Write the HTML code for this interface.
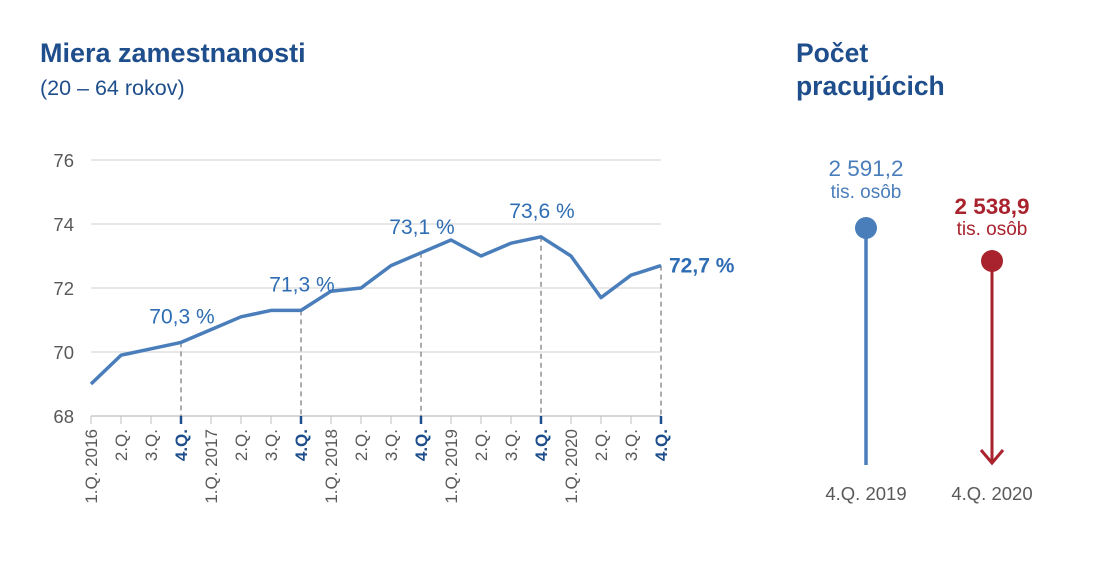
<!DOCTYPE html>
<html><head><meta charset="utf-8"><style>
body{margin:0;background:#fff;font-family:"Liberation Sans",sans-serif}
svg{display:block}
</style></head><body>
<svg width="1112" height="573" font-family="Liberation Sans, sans-serif">
<text x="40" y="62" font-size="27" font-weight="bold" fill="#1f4e8c">Miera zamestnanosti</text>
<text x="40" y="95" font-size="21.5" fill="#1f4e8c">(20 – 64 rokov)</text>
<text x="796" y="62" font-size="26.5" font-weight="bold" fill="#1f4e8c">Počet</text>
<text x="796" y="95" font-size="26.5" font-weight="bold" fill="#1f4e8c">pracujúcich</text>
<g id="grid"></g><g id="drop"></g><g id="xl"></g>
<path id="line" fill="none" stroke="#4a7ebb" stroke-width="3.5" stroke-linejoin="round"/>
<g id="ann"></g>
<line x1="866" y1="228" x2="866" y2="465" stroke="#4a7ebb" stroke-width="3.5"/>
<circle cx="866" cy="228" r="11" fill="#4a7ebb"/>
<text x="866" y="176" text-anchor="middle" font-size="22.5" fill="#4a7ebb">2 591,2</text>
<text x="866" y="198" text-anchor="middle" font-size="19" fill="#4a7ebb">tis. osôb</text>
<line x1="992" y1="261" x2="992" y2="463" stroke="#a8232e" stroke-width="3"/>
<polyline points="981,450 992,463 1003,450" fill="none" stroke="#a8232e" stroke-width="3"/>
<circle cx="992" cy="261" r="11" fill="#a8232e"/>
<text x="992" y="214" text-anchor="middle" font-size="22.5" font-weight="bold" fill="#a8232e">2 538,9</text>
<text x="992" y="235" text-anchor="middle" font-size="19" fill="#a8232e">tis. osôb</text>
<text x="866" y="500" text-anchor="middle" font-size="18.5" fill="#595959">4.Q. 2019</text>
<text x="992" y="500" text-anchor="middle" font-size="18.5" fill="#595959">4.Q. 2020</text>
</svg>
<script>
const categories=["1.Q. 2016","2.Q.","3.Q.","4.Q.","1.Q. 2017","2.Q.","3.Q.","4.Q.","1.Q. 2018","2.Q.","3.Q.","4.Q.","1.Q. 2019","2.Q.","3.Q.","4.Q.","1.Q. 2020","2.Q.","3.Q.","4.Q."];
const values=[69.0,69.9,70.1,70.3,70.7,71.1,71.3,71.3,71.9,72.0,72.7,73.1,73.5,73.0,73.4,73.6,73.0,71.7,72.4,72.7];
const yTicks=[68,70,72,74,76];
const annotated=[3,7,11,15,19];
const NS="http://www.w3.org/2000/svg";
const x=i=>91+i*30, y=v=>416-(v-68)*32;
function mk(tag,attrs,parent,txt){const e=document.createElementNS(NS,tag);for(const k in attrs)e.setAttribute(k,attrs[k]);if(txt!=null)e.textContent=txt;parent.appendChild(e);return e;}
const grid=document.getElementById('grid');
yTicks.forEach(t=>{
 const l=mk('line',{x1:91,x2:661,y1:y(t),y2:y(t),stroke:t===68?'#bfbfbf':'#d9d9d9','stroke-width':1.3},grid);
 
 
 const tx=mk('text',{x:74,y:y(t)+7,'text-anchor':'end','font-size':18.5,fill:'#595959'},grid,String(t));
 
 
});
const xl=document.getElementById('xl');
categories.forEach((c,i)=>{
 const b=annotated.includes(i);
 const tk=mk('line',{x1:x(i),x2:x(i),y1:416,y2:424,stroke:b?'#1f4e8c':'#bfbfbf','stroke-width':b?2.5:1},xl);
 
 
 const t=mk('text',{transform:`translate(${x(i)+6},429) rotate(-90)`,'text-anchor':'end','font-size':17,fill:b?'#1f4e8c':'#595959','font-weight':b?'bold':'normal'},xl,c);
 
 
});
const drop=document.getElementById('drop'),ann=document.getElementById('ann');
annotated.forEach((i,k)=>{
 const d=mk('line',{x1:x(i),x2:x(i),y1:y(values[i]),y2:416,stroke:'#7f7f7f','stroke-width':1.3,'stroke-dasharray':'5,4'},drop);
 
 
 const last=k===annotated.length-1;
 const lab=values[i].toFixed(1).replace('.',',')+' %';
 const t=last?mk('text',{x:x(i)+8,y:y(values[i])+7,'font-size':21,'font-weight':'bold',fill:'#2e6db4'},ann,lab)
  :mk('text',{x:x(i)+1,y:y(values[i])-19,'text-anchor':'middle','font-size':21,fill:'#2e6db4'},ann,lab);
 
 
});
document.getElementById('line').setAttribute('d',values.map((v,i)=>(i?'L':'M')+x(i)+','+y(v)).join(''));
</script>
</body></html>
